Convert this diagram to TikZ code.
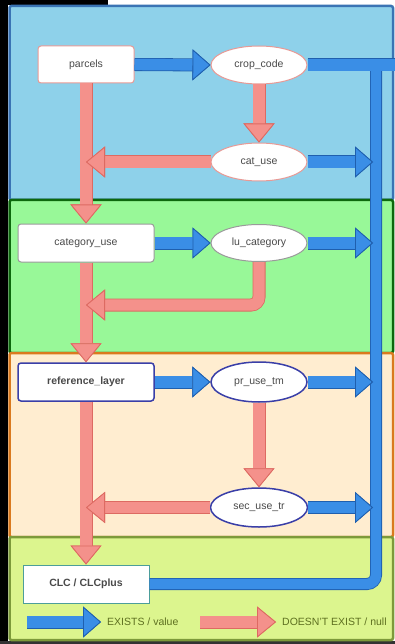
\documentclass[tikz,border=0pt]{standalone}
\usepackage{fontspec}
\setmainfont{Liberation Sans}
\usetikzlibrary{arrows.meta,shapes.geometric}
\definecolor{bandBlue}{HTML}{8ED1EA}
\definecolor{bandBlueB}{HTML}{3A74B4}
\definecolor{bandGreen}{HTML}{98F898}
\definecolor{bandGreenB}{HTML}{0D680D}
\definecolor{bandPeach}{HTML}{FFEDD0}
\definecolor{bandPeachB}{HTML}{DA7A1E}
\definecolor{bandLime}{HTML}{DCF58E}
\definecolor{bandLimeB}{HTML}{7D9A3A}
\definecolor{blueF}{HTML}{3A8EE6}
\definecolor{blueB}{HTML}{1F5FAE}
\definecolor{pinkF}{HTML}{F4918B}
\definecolor{pinkB}{HTML}{DD6A62}
\definecolor{pinkN}{HTML}{E79A96}
\definecolor{greyN}{HTML}{9A9A9A}
\definecolor{navyN}{HTML}{3A3FA8}
\definecolor{tealN}{HTML}{4C9E9A}
\definecolor{txt}{HTML}{4A4A4A}
\definecolor{legtxt}{HTML}{5E7020}
\tikzset{
  band/.style={line width=2.5pt, rounded corners=2pt},
  rbox/.style={rectangle, rounded corners=3pt, fill=white, line width=1pt, text=txt,
    minimum height=38pt, inner sep=0pt, font=\fontsize{10.5}{12}\selectfont},
  ell/.style={ellipse, fill=white, line width=1pt, text=txt, minimum width=96pt,
    minimum height=38pt, inner sep=0pt, font=\fontsize{10.5}{12}\selectfont},
  btip/.style={-{Triangle[length=18pt,width=31pt,line width=0.8pt,fill=blueF,color=blueB]}},
  ptip/.style={-{Triangle[length=19pt,width=31pt,line width=0.8pt,fill=pinkF,color=pinkB]}},
  barr/.style={preaction={draw=blueB, line width=13pt, btip}, draw=blueF, line width=11.4pt, btip},
  parr/.style={preaction={draw=pinkB, line width=13pt, ptip}, draw=pinkF, line width=11.4pt, ptip},
  bline/.style={preaction={draw=blueB, line width=12pt}, draw=blueF, line width=10.4pt},
}
\begin{document}
\begin{tikzpicture}[x=1pt,y=-1pt]
\useasboundingbox (0,0) rectangle (395,644);
\fill[white] (0,0) rectangle (395,644);
\fill[black] (0,0) rectangle (8,644);
\fill[black] (0,0) rectangle (108,5);
\fill[black!80] (0,641) rectangle (395,644);
% bands
\draw[band, fill=bandBlue, draw=bandBlueB] (9.5,6) rectangle (393,200);
\draw[band, fill=bandGreen, draw=bandGreenB] (9.5,200) rectangle (393,353);
\draw[band, fill=bandPeach, draw=bandPeachB] (9.5,353) rectangle (393,537);
\draw[band, fill=bandLime, draw=bandLimeB] (9.5,537) rectangle (393,640);
% nodes
\node[rbox, draw=pinkN, minimum width=96pt, minimum height=37pt] (parcels) at (86,64.5) {parcels};
\node[ell, draw=pinkN] (crop) at (259,65) {crop\_code};
\node[ell, draw=pinkN] (cat) at (259,162) {cat\_use};
\node[rbox, draw=greyN, minimum width=136pt] (category) at (86,243) {category\_use};
\node[ell, draw=greyN, minimum height=37pt] (lu) at (259,243) {lu\_category};
\node[rbox, draw=navyN, line width=1.5pt, minimum width=136pt, font=\fontsize{10.5}{12}\selectfont\bfseries] (ref) at (86,382) {reference\_layer};
\node[ell, draw=navyN, line width=1.5pt, minimum height=40pt] (pr) at (259,382) {pr\_use\_tm};
\node[ell, draw=navyN, line width=1.5pt, minimum width=97pt, minimum height=39pt] (sec) at (259,507.5) {sec\_use\_tr};
\node[rbox, draw=tealN, rounded corners=0pt, minimum width=126pt, font=\fontsize{10.5}{12}\selectfont\bfseries] (clc) at (86,584) {CLC / CLCplus};
% coordinates
\coordinate (vx) at (373,0);
\coordinate (edgeR) at (395,65);
\coordinate (vtop) at (376,66);
\coordinate (vbot) at (376,584);
\coordinate (luc) at (259,305);
\coordinate (lut) at (86,305);
% blue collector line
\draw[bline, rounded corners=9pt] (vtop) -- (vbot) -- (clc.east);
\draw[bline, line width=11.4pt, preaction={draw=blueB, line width=13pt}] (crop.east) -- (edgeR);
% blue arrows
\draw[barr] (parcels.east) -- (crop.west);
\draw[barr] (category.east) -- (lu.west);
\draw[barr] (ref.east) -- (pr.west);
\draw[barr] (cat.east) -- (cat.east -| vx);
\draw[barr] (lu.east) -- (lu.east -| vx);
\draw[barr] (pr.east) -- (pr.east -| vx);
\draw[barr] (sec.east) -- (sec.east -| vx);
% pink arrows
\draw[parr] (parcels.south) -- (category.north);
\draw[parr] (category.south) -- (ref.north);
\draw[parr] (ref.south) -- (clc.north);
\draw[parr] (crop.south) -- (cat.north);
\draw[parr] (pr.south) -- (sec.north);
\draw[parr] (cat.west) -- (cat.west -| parcels.south);
\draw[parr] (sec.west) -- (sec.west -| parcels.south);
\draw[parr, rounded corners=8pt] (lu.south) -- (luc) -- (lut);
% legend
\coordinate (lb1) at (27,622);
\coordinate (lb2) at (101,622);
\coordinate (lp1) at (200,622);
\coordinate (lp2) at (276,622);
\draw[barr] (lb1) -- (lb2);
\draw[parr] (lp1) -- (lp2);
\node[anchor=west, inner sep=0pt, text=legtxt, font=\fontsize{10.5}{12}\selectfont] (lbt) at (107,622) {EXISTS / value};
\node[anchor=west, inner sep=0pt, text=legtxt, font=\fontsize{10.5}{12}\selectfont] (lpt) at (282,622) {DOESN'T EXIST / null};
\end{tikzpicture}
\end{document}
